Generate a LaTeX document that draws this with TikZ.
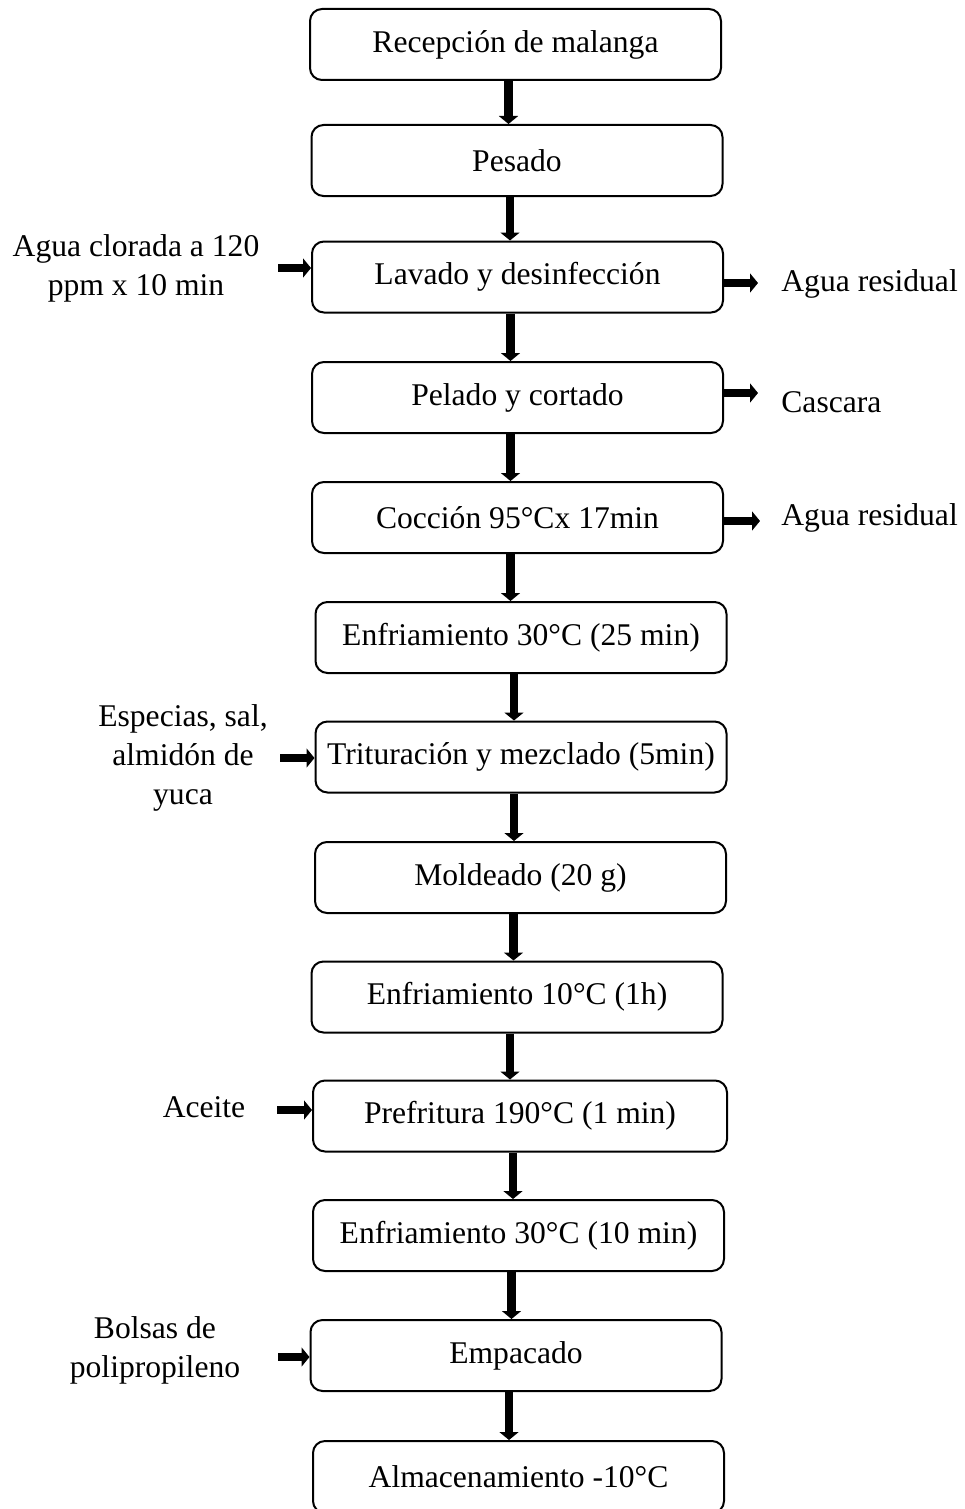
\documentclass[tikz,border=0pt]{standalone}
\usepackage{fontspec}
\setmainfont{Liberation Serif}
\usetikzlibrary{arrows.meta}
\tikzset{
  procbox/.style={draw=black, line width=1pt, rounded corners=6pt, minimum width=205.5pt, minimum height=35.5pt, inner sep=0pt, align=center, font=\fontsize{15.8}{19.5}\selectfont},
  sidelabel/.style={inner sep=0pt, align=center, font=\fontsize{15.8}{19.5}\selectfont},
  flowarrow/.style={line width=4.2pt, -{Triangle[length=4pt,width=9.5pt]}},
}
\begin{document}
\begin{tikzpicture}[x=0.5pt,y=-0.5pt]
\useasboundingbox (0,0) rectangle (964,1509);
% process boxes
\node[procbox] (n1) at (515.5,44.5) {Recepción de malanga};
\node[procbox] (n2) at (517,160.5) {Pesado};
\node[procbox] (n3) at (517.5,277) {Lavado y desinfección};
\node[procbox] (n4) at (517.5,397.5) {Pelado y cortado};
\node[procbox] (n5) at (517.5,517.5) {Cocción 95°Cx 17min};
\node[procbox] (n6) at (521,637.5) {Enfriamiento 30°C (25 min)};
\node[procbox] (n7) at (521,757) {Trituración y mezclado (5min)};
\node[procbox] (n8) at (520.5,877.5) {Moldeado (20 g)};
\node[procbox] (n9) at (517,997) {Enfriamiento 10°C (1h)};
\node[procbox, minimum width=207pt] (n10) at (520,1116) {Prefritura 190°C (1 min)};
\node[procbox] (n11) at (518.5,1235.5) {Enfriamiento 30°C (10 min)};
\node[procbox] (n12) at (516,1355.5) {Empacado};
\node[procbox, minimum height=36pt] (n13) at (518.5,1477) {Almacenamiento -10°C};
% vertical connectors
\foreach \a/\b in {n1/n2,n2/n3,n3/n4,n4/n5,n5/n6,n6/n7,n7/n8,n8/n9,n9/n10,n10/n11,n11/n12,n12/n13}{
  \draw[flowarrow] ([xshift=-3.5pt]\a.south) -- ([xshift=-3.5pt]\a.south |- \b.north);
}
% inputs (left)
\node[sidelabel] (inAtxt) at (136,268) {Agua clorada a 120\\ppm x 10 min};
\node[sidelabel] (inBtxt) at (183,758) {Especias, sal,\\almidón de\\yuca};
\node[sidelabel] (inCtxt) at (204,1107) {Aceite};
\node[sidelabel] (inDtxt) at (155,1350) {Bolsas de\\polipropileno};
\coordinate (inA) at (278,268);
\coordinate (inB) at (280,758);
\coordinate (inC) at (277,1110);
\coordinate (inD) at (278,1357);
\draw[flowarrow] (inA) -- (inA -| n3.west);
\draw[flowarrow] (inB) -- (inB -| n7.west);
\draw[flowarrow] (inC) -- (inC -| n10.west);
\draw[flowarrow] (inD) -- (inD -| n12.west);
% outputs (right)
\node[sidelabel, anchor=west] (outAtxt) at (781,284) {Agua residual};
\node[sidelabel, anchor=west] (outBtxt) at (781,402) {Cascara};
\node[sidelabel, anchor=west] (outCtxt) at (781,518) {Agua residual};
\coordinate (outA) at (758,283);
\coordinate (outB) at (758,393);
\coordinate (outC) at (760,521);
\draw[flowarrow] (outA -| n3.east) -- (outA);
\draw[flowarrow] (outB -| n4.east) -- (outB);
\draw[flowarrow] (outC -| n5.east) -- (outC);
\end{tikzpicture}
\end{document}
